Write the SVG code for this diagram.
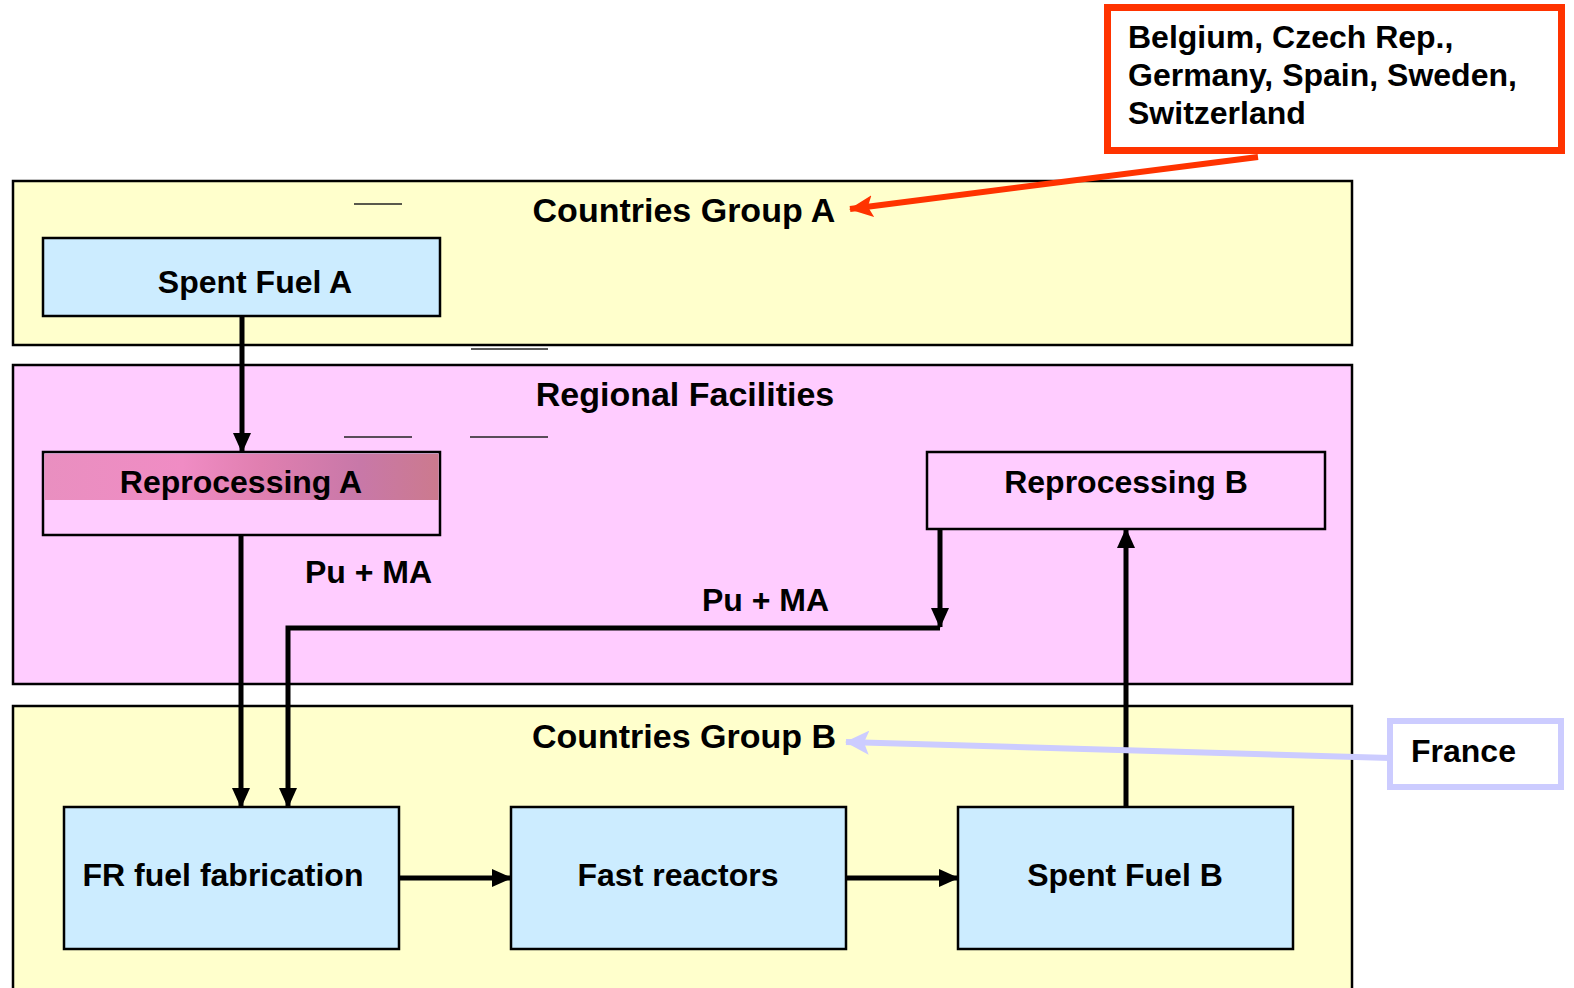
<svg xmlns="http://www.w3.org/2000/svg" width="1574" height="988" viewBox="0 0 1574 988">
<style>
.panel{stroke:#000;stroke-width:2.5}
.box{stroke:#000;stroke-width:2.5}
.t{font-family:"Liberation Sans",Arial,sans-serif;font-weight:bold;fill:#000}
.title{font-size:34px;text-anchor:middle}
.lbl{font-size:32px;text-anchor:middle}
.lt{font-size:32px}
.c{fill:none;stroke:#000;stroke-width:5}
.thin{stroke:#222;stroke-width:1.5}
</style>
<defs>
<marker id="ah" markerUnits="userSpaceOnUse" markerWidth="20" markerHeight="18" refX="19" refY="9" orient="auto">
<path d="M0,0 L20,9 L0,18 Z" fill="#000"/>
</marker>
<marker id="ahRed" markerUnits="userSpaceOnUse" markerWidth="24" markerHeight="22" refX="23" refY="11" orient="auto">
<path d="M0,0 L24,11 L0,22 L5,11 Z" fill="#FF3300"/>
</marker>
<marker id="ahBlue" markerUnits="userSpaceOnUse" markerWidth="24" markerHeight="24" refX="23" refY="12" orient="auto">
<path d="M0,0 L24,12 L0,24 L5,12 Z" fill="#CCCCFF"/>
</marker>
<linearGradient id="pinkBand" x1="0" y1="0" x2="1" y2="0">
<stop offset="0" stop-color="#E98FC0"/>
<stop offset="0.35" stop-color="#F08CC4"/>
<stop offset="0.55" stop-color="#E07FB0"/>
<stop offset="0.8" stop-color="#C878A8"/>
<stop offset="1" stop-color="#CC7A8E"/>
</linearGradient>
</defs>
<rect width="1574" height="988" fill="#fff"/>

<g id="groupA">
<rect class="panel" x="13" y="181" width="1339" height="164" fill="#FFFFCC"/>
<text class="t title" x="684" y="222">Countries Group A</text>
<line class="thin" x1="354" y1="204" x2="402" y2="204"/>
</g>
<g id="regional">
<rect class="panel" x="13" y="365" width="1339" height="319" fill="#FFCCFF"/>
<text class="t title" x="685" y="406">Regional Facilities</text>
<line class="thin" x1="471" y1="349" x2="548" y2="349"/>
<line class="thin" x1="344" y1="437" x2="412" y2="437"/>
<line class="thin" x1="470" y1="437" x2="548" y2="437"/>
</g>
<g id="groupB">
<rect class="panel" x="13" y="706" width="1339" height="300" fill="#FFFFCC"/>
<text class="t title" x="684" y="748">Countries Group B</text>
</g>

<g id="spentFuelA">
<rect class="box" x="43" y="238" width="397" height="78" fill="#CCECFF"/>
<text class="t lbl" x="255" y="293">Spent Fuel A</text>
</g>
<g id="reprocessingA">
<rect class="box" x="43" y="452" width="397" height="83" fill="#FFCCFF"/>
<rect x="44.5" y="454" width="394" height="46" fill="url(#pinkBand)"/>
<text class="t lbl" x="241" y="493">Reprocessing A</text>
</g>
<g id="reprocessingB">
<rect class="box" x="927" y="452" width="398" height="77" fill="#FFCCFF"/>
<text class="t lbl" x="1126" y="493">Reprocessing B</text>
</g>
<g id="frFuel">
<rect class="box" x="64" y="807" width="335" height="142" fill="#CCECFF"/>
<text class="t lbl" x="223" y="886">FR fuel fabrication</text>
</g>
<g id="fastReactors">
<rect class="box" x="511" y="807" width="335" height="142" fill="#CCECFF"/>
<text class="t lbl" x="678" y="886">Fast reactors</text>
</g>
<g id="spentFuelB">
<rect class="box" x="958" y="807" width="335" height="142" fill="#CCECFF"/>
<text class="t lbl" x="1125" y="886">Spent Fuel B</text>
</g>

<g id="noteA">
<rect x="1107.5" y="7.5" width="454" height="143" fill="#fff" stroke="#FF3300" stroke-width="7"/>
<text class="t lt" x="1128" y="48">Belgium, Czech Rep.,</text>
<text class="t lt" x="1128" y="86">Germany, Spain, Sweden,</text>
<text class="t lt" x="1128" y="124">Switzerland</text>
</g>
<g id="noteB">
<rect x="1390" y="721" width="171" height="66" fill="#fff" stroke="#CCCCFF" stroke-width="6"/>
<text class="t lt" x="1411" y="762">France</text>
</g>

<g id="connectors">
<line class="c" x1="242" y1="316" x2="242" y2="452" marker-end="url(#ah)"/>
<line class="c" x1="241" y1="535" x2="241" y2="807" marker-end="url(#ah)"/>
<line class="c" x1="940" y1="529" x2="940" y2="627" marker-end="url(#ah)"/>
<polyline class="c" points="940,628 288,628 288,807" marker-end="url(#ah)"/>
<line class="c" x1="399" y1="878" x2="511" y2="878" marker-end="url(#ah)"/>
<line class="c" x1="846" y1="878" x2="958" y2="878" marker-end="url(#ah)"/>
<line class="c" x1="1126" y1="807" x2="1126" y2="529" marker-end="url(#ah)"/>
<line x1="1258" y1="157" x2="850" y2="209" stroke="#FF3300" stroke-width="6" marker-end="url(#ahRed)"/>
<line x1="1390" y1="758" x2="846" y2="742" stroke="#CCCCFF" stroke-width="6" marker-end="url(#ahBlue)"/>
<text class="t lt" x="305" y="583">Pu + MA</text>
<text class="t lt" x="702" y="611">Pu + MA</text>
</g>
</svg>
